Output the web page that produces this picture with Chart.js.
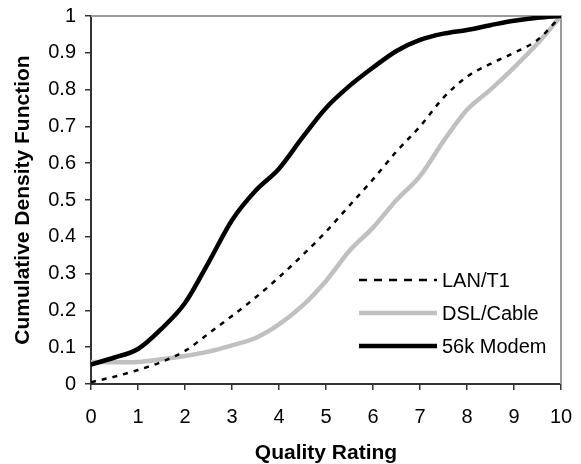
<!DOCTYPE html>
<html>
<head>
<meta charset="utf-8">
<script src="https://cdn.jsdelivr.net/npm/chart.js@4.4.0/dist/chart.umd.min.js"></script>
<style>
  html, body { margin: 0; padding: 0; background: #fff; }
  #chart { display: block; }
</style>
</head>
<body>
<canvas id="chart" width="581" height="464"></canvas>
<script>
const ratings = [0, 0.5, 1, 1.5, 2, 2.5, 3, 3.5, 4, 4.5, 5, 5.5, 6, 6.5, 7, 7.5, 8, 8.5, 9, 9.5, 10];

const lanT1    = [0.005, 0.02, 0.038, 0.06, 0.09, 0.137, 0.185, 0.235, 0.29, 0.35, 0.414, 0.485, 0.556, 0.632, 0.70, 0.778, 0.835, 0.87, 0.90, 0.935, 1.0];
const dslCable = [0.06, 0.059, 0.06, 0.067, 0.076, 0.088, 0.105, 0.125, 0.162, 0.213, 0.28, 0.362, 0.425, 0.50, 0.565, 0.66, 0.745, 0.80, 0.86, 0.925, 1.0];
const modem56k = [0.053, 0.072, 0.095, 0.15, 0.22, 0.33, 0.445, 0.525, 0.585, 0.67, 0.75, 0.81, 0.86, 0.905, 0.935, 0.952, 0.962, 0.975, 0.987, 0.995, 1.0];

const seriesNames = ["LAN/T1", "DSL/Cable", "56k Modem"];
const xTicks = [0, 1, 2, 3, 4, 5, 6, 7, 8, 9, 10];
const yTicks = [0, 0.1, 0.2, 0.3, 0.4, 0.5, 0.6, 0.7, 0.8, 0.9, 1];

const FONT = "'Liberation Sans', Arial, sans-serif";

function pts(ys) {
    return ratings.map((x, i) => ({ x: x, y: ys[i] }));
}

// no label overhang, so the layout padding alone places the plot
function noOverhang(s) {
    s.paddingLeft = 0;
    s.paddingRight = 0;
    s.paddingTop = 0;
    s.paddingBottom = 0;
}

// top + right frame lines (gray)
const framePlugin = {
    id: "frame",
    beforeDatasetsDraw(chart) {
        const { ctx, chartArea: a } = chart;
        ctx.save();
        ctx.strokeStyle = "#9a9a9a";
        ctx.lineWidth = 2;
        ctx.beginPath();
        ctx.moveTo(a.left, a.top);
        ctx.lineTo(a.right, a.top);
        ctx.lineTo(a.right, a.bottom);
        ctx.stroke();
        ctx.restore();
    }
};

// legend sitting inside the plot, lower right
const insideLegend = {
    id: "insideLegend",
    afterDatasetsDraw(chart) {
        const { ctx, chartArea: a } = chart;
        const x0 = a.left + 268, x1 = a.left + 346;
        const rows = [a.bottom - 104, a.bottom - 71, a.bottom - 38];
        ctx.save();
        ctx.font = "20px " + FONT;
        ctx.textBaseline = "middle";
        ctx.fillStyle = "#000";
        seriesNames.forEach((name, i) => {
            const ds = chart.data.datasets[i];
            ctx.beginPath();
            ctx.strokeStyle = ds.borderColor;
            ctx.lineWidth = ds.borderWidth;
            ctx.lineCap = "butt";
            ctx.setLineDash(ds.borderDash ? [8, 7] : []);
            ctx.moveTo(x0, rows[i]);
            ctx.lineTo(x1, rows[i]);
            ctx.stroke();
            ctx.setLineDash([]);
            ctx.fillText(name, x1 + 5, rows[i] + 1);
        });
        ctx.restore();
    }
};

new Chart(document.getElementById("chart"), {
    type: "line",
    data: {
        datasets: [
            {
                label: seriesNames[0],
                data: pts(lanT1),
                borderColor: "#000",
                borderWidth: 2.5,
                borderDash: [5, 6],
                pointRadius: 0,
                cubicInterpolationMode: "monotone",
                order: 0
            },
            {
                label: seriesNames[1],
                data: pts(dslCable),
                borderColor: "#c0c0c0",
                borderWidth: 4.5,
                pointRadius: 0,
                cubicInterpolationMode: "monotone",
                order: 2
            },
            {
                label: seriesNames[2],
                data: pts(modem56k),
                borderColor: "#000",
                borderWidth: 4.5,
                pointRadius: 0,
                cubicInterpolationMode: "monotone",
                order: 1
            }
        ]
    },
    options: {
        responsive: false,
        animation: false,
        devicePixelRatio: 1,
        layout: { padding: { left: 0, right: 20, top: 16, bottom: 0 } },
        plugins: { legend: { display: false }, tooltip: { enabled: false } },
        scales: {
            x: {
                type: "linear",
                min: 0,
                max: 10,
                afterFit(s) { s.height = 80; noOverhang(s); },
                afterBuildTicks(s) { s.ticks = xTicks.map(v => ({ value: v })); },
                border: { color: "#333", width: 2 },
                grid: { drawOnChartArea: false, drawTicks: true, tickLength: 6, color: "#333", lineWidth: 1.5 },
                ticks: { color: "#000", font: { family: FONT, size: 20 }, padding: 15, maxRotation: 0 },
                title: { display: true, text: "Quality Rating", color: "#000", font: { family: FONT, size: 21, weight: "bold", lineHeight: 1.0 }, padding: { top: 0, bottom: 0 } }
            },
            y: {
                type: "linear",
                min: 0,
                max: 1,
                afterFit(s) { s.width = 91; noOverhang(s); },
                afterBuildTicks(s) { s.ticks = yTicks.map(v => ({ value: v })); },
                border: { color: "#333", width: 2 },
                grid: { drawOnChartArea: false, drawTicks: true, tickLength: 6, color: "#333", lineWidth: 1.5 },
                ticks: {
                    color: "#000",
                    font: { family: FONT, size: 20 },
                    padding: 9,
                    callback: v => String(+v.toFixed(1))
                },
                title: { display: true, text: "Cumulative Density Function", color: "#000", font: { family: FONT, size: 21, weight: "bold" }, padding: { top: 11, bottom: 0 } }
            }
        }
    },
    plugins: [framePlugin, insideLegend]
});
</script>
</body>
</html>
